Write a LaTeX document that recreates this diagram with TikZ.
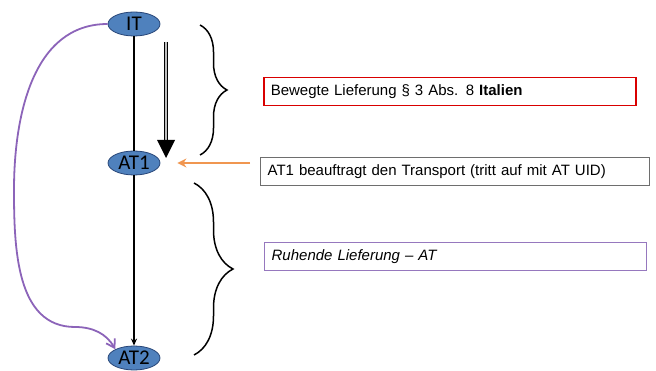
\documentclass[tikz,border=0pt]{standalone}
\usepackage{fontspec}
\setmainfont{Liberation Sans}
\newfontfamily\calib{Carlito}
\usetikzlibrary{arrows.meta,decorations.pathreplacing,shapes.geometric}
\definecolor{nodeblue}{RGB}{79,129,189}
\definecolor{nodeedge}{RGB}{40,70,120}
\definecolor{boxgray}{RGB}{110,110,110}
\definecolor{boxpurple}{RGB}{150,120,190}
\definecolor{curvepurple}{RGB}{140,100,185}
\definecolor{arroworange}{RGB}{240,150,80}
\tikzset{
  land/.style={ellipse, draw=nodeedge, line width=0.8pt, fill=nodeblue, minimum width=52pt, minimum height=24pt, inner sep=0pt, font=\calib\fontsize{21}{21}\selectfont},
  infobox/.style={line width=1.3pt, anchor=north west, minimum height=28pt, inner xsep=7pt, align=left, font=\fontsize{15}{17}\selectfont},
  flow/.style={line width=1.3pt},
  bracestyle/.style={line width=1.5pt, decorate}
}
\begin{document}
\begin{tikzpicture}[x=1pt,y=-1pt]
\useasboundingbox (0,0) rectangle (656,371);
\node[land] (IT) at (134,24) {IT};
\node[land] (AT1) at (134,163) {AT1};
\node[land] (AT2) at (134,358) {AT2};

\draw[flow] (IT) -- (AT1);
\draw[flow,-{Stealth[length=7pt,width=6pt]}] (AT1) -- (AT2);

% double arrow
\coordinate (da1) at (166,42);
\coordinate (da2) at (166,141);
\coordinate (dtip) at (166,158);
\draw[line width=1.3pt, double=gray!50, double distance=2pt] (da1) -- (da2);
\fill (157,140) -- (175,140) -- (dtip) -- cycle;

% braces
\coordinate (b1a) at (200,25);
\coordinate (b1b) at (200,155);
\draw[bracestyle, decoration={brace, amplitude=27pt}] (b1a) -- (b1b);
\coordinate (b2a) at (194,183);
\coordinate (b2b) at (194,355);
\draw[bracestyle, decoration={brace, amplitude=39pt}] (b2a) -- (b2b);

% boxes
\node[infobox, draw=red!85!black, line width=1.5pt, text width=358pt] (B1) at (263,77) {Bewegte Lieferung \S\ 3 Abs. 8 \textbf{Italien}};
\node[infobox, draw=boxgray, text width=375pt] (B2) at (260,157) {AT1 beauftragt den Transport (tritt auf mit AT UID)};
\node[infobox, draw=boxpurple, text width=368pt] (B3) at (264,242) {\itshape Ruhende Lieferung -- AT};

% orange arrow
\draw[arroworange, line width=2pt, -{Stealth[length=9pt,width=9pt]}, shorten <=10pt, shorten >=17pt] (AT1.east -| B2.west) -- (AT1.east);

% purple curve
\draw[curvepurple, line width=1.8pt, -{Straight Barb[length=8pt,width=10pt]}]
  (IT.west) to[out=180,in=90] (14,190) to[out=-90,in=180] (75,327) to[out=0,in=120] (AT2.north west);
\end{tikzpicture}
\end{document}
